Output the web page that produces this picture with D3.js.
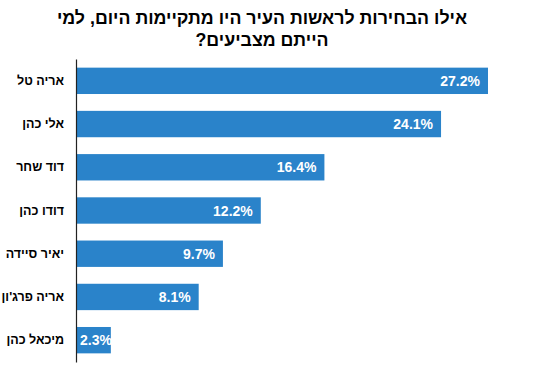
<!DOCTYPE html>
<html><head><meta charset="utf-8">
<script src="https://cdn.jsdelivr.net/npm/d3@7"></script>
<style>body{margin:0;background:#fff;} svg{display:block;}</style>
</head><body>
<svg id="chart" width="539" height="385"></svg>
<script>
const titleLines = ["אילו הבחירות לראשות העיר היו מתקיימות היום, למי", "הייתם מצביעים?"];
const categories = ["אריה טל", "אלי כהן", "דוד שחר", "דודו כהן", "יאיר סיידה", "אריה פרג'ון", "מיכאל כהן"];
const values = [27.2, 24.1, 16.4, 12.2, 9.7, 8.1, 2.3];
const valueLabels = ["27.2%", "24.1%", "16.4%", "12.2%", "9.7%", "8.1%", "2.3%"];

const svg = d3.select("#chart");
const font = "Arial, 'Liberation Sans', sans-serif";
const x0 = 76, x1 = 488, yTop = 59, yBot = 362;

const x = d3.scaleLinear().domain([0, d3.max(values)]).range([x0, x1]);
const y = d3.scaleBand().domain(categories).range([yTop, yBot]).paddingInner(0.39).paddingOuter(0.2);

svg.append("g").selectAll("text").data(titleLines).join("text")
  .attr("x", 262).attr("y", (d, i) => 24 + i * 22)
  .attr("text-anchor", "middle")
  .attr("font-family", font).attr("font-size", 17.8).attr("font-weight", "bold")
  .attr("fill", "#000")
  .each(function(d) {
    const t = d3.select(this);
    // render then center precisely using measured width
    t.attr("direction", "rtl").style("unicode-bidi", "embed").text(d);
  });
// precise centering
svg.selectAll("g:first-of-type text").each(function() {
  const bb = this.getBBox();
  const cx = bb.x + bb.width / 2;
  d3.select(this).attr("x", 262 - (cx - 262));
});

svg.append("g").selectAll("rect").data(categories).join("rect")
  .attr("x", x0 + 0.5)
  .attr("y", d => y(d))
  .attr("width", (d, i) => x(values[i]) - x0 - 0.5)
  .attr("height", y.bandwidth())
  .attr("fill", "#2A83CA");

const yAxis = d3.axisLeft(y).tickSize(0).tickPadding(12);
const ga = svg.append("g").attr("transform", `translate(${x0},0)`).call(yAxis);
ga.select(".domain").attr("stroke", "#222").attr("stroke-width", 1.2);
ga.selectAll(".tick text")
  .attr("font-family", font).attr("font-size", 12.5).attr("font-weight", "bold")
  .attr("fill", "#000").attr("direction", "rtl").attr("text-anchor", "start")
  .style("unicode-bidi", "embed");

svg.append("g").selectAll("text").data(categories).join("text")
  .attr("x", (d, i) => Math.max(x(values[i]) - 8, x0 + 36))
  .attr("y", d => y(d) + y.bandwidth() / 2)
  .attr("dy", "0.36em")
  .attr("text-anchor", "end")
  .attr("font-family", font).attr("font-size", 14).attr("font-weight", "bold")
  .attr("fill", "#fff").text((d, i) => valueLabels[i]);
</script>
</body></html>
